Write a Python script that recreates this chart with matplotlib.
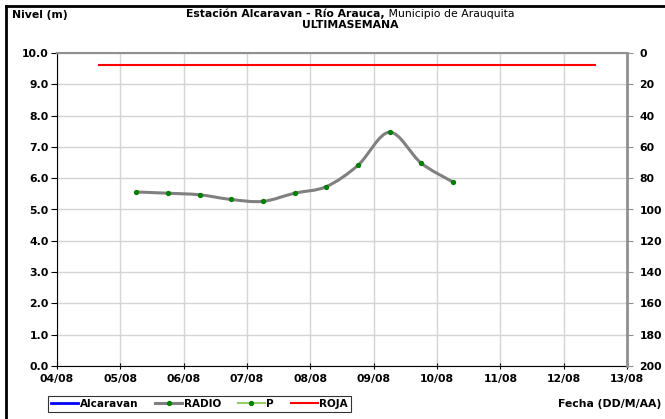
"""Nivel del río Arauca en la estación Alcaravan, última semana."""
import matplotlib
matplotlib.use("Agg")
import matplotlib.pyplot as plt
from matplotlib.path import Path
from matplotlib.patches import PathPatch
from matplotlib.lines import Line2D

plt.rcParams["font.family"] = ["DejaVu Sans"]

# ── Datos ──────────────────────────────────────────────────────────────────────
day_labels = ["04/08", "05/08", "06/08", "07/08", "08/08",
              "09/08", "10/08", "11/08", "12/08", "13/08"]
# días desde 04/08 00:00 (lecturas cada 12 h)
radio_days = [1.25, 1.75, 2.25, 2.75, 3.25, 3.75, 4.25, 4.75, 5.25, 5.75, 6.25]
radio_level = [5.56, 5.52, 5.47, 5.32, 5.26, 5.52, 5.73, 6.41, 7.47, 6.48, 5.88]
roja_days = [0.66, 8.5]
roja_level = [9.62, 9.62]
right_ticks = [0, 20, 40, 60, 80, 100, 120, 140, 160, 180, 200]

FS = 7.8

fig = plt.figure(figsize=(6.65, 4.19), dpi=100)
ax = fig.add_axes([0.0857, 0.1265, 0.8573, 0.747])

ax.set_xlim(0, len(day_labels) - 1)
ax.set_ylim(0, 10)
ax.set_xticks(range(len(day_labels)))
ax.set_xticklabels(day_labels)
ax.set_yticks(range(0, 11))
ax.set_yticklabels([f"{v:.1f}" for v in range(0, 11)])
ax.grid(True, color="#d4d4d4", lw=1)
ax.set_axisbelow(True)

for lab in ax.get_xticklabels() + ax.get_yticklabels():
    lab.set_fontweight("bold")
    lab.set_fontsize(FS)
ax.tick_params(axis="y", direction="out", length=4, width=0.8, pad=2)
ax.tick_params(axis="x", direction="inout", length=5, width=0.8, pad=3)

ax.spines["left"].set_color("black")
ax.spines["bottom"].set_color("black")
ax.spines["top"].set_color("#909090")
ax.spines["top"].set_linewidth(1.5)
ax.spines["right"].set_visible(False)

# ROJA
ax.plot(roja_days, roja_level, color="#ff0000", lw=1.5, zorder=3)

# RADIO — línea suavizada (Catmull-Rom -> Bezier) en coordenadas de datos
verts = [(radio_days[0], radio_level[0])]
codes = [Path.MOVETO]
n = len(radio_days)
for i in range(n - 1):
    p0 = (radio_days[max(i - 1, 0)], radio_level[max(i - 1, 0)])
    p1 = (radio_days[i], radio_level[i])
    p2 = (radio_days[i + 1], radio_level[i + 1])
    p3 = (radio_days[min(i + 2, n - 1)], radio_level[min(i + 2, n - 1)])
    c1 = (p1[0] + (p2[0] - p0[0]) / 6, p1[1] + (p2[1] - p0[1]) / 6)
    c2 = (p2[0] - (p3[0] - p1[0]) / 6, p2[1] - (p3[1] - p1[1]) / 6)
    verts += [c1, c2, p2]
    codes += [Path.CURVE4] * 3
ax.add_patch(PathPatch(Path(verts, codes), facecolor="none",
                       edgecolor="#808080", lw=2.2, zorder=4))
ax.plot(radio_days, radio_level, ls="none", marker="o", ms=2.8,
        color="#008000", zorder=5)

# eje derecho (invertido)
ax2 = ax.twinx()
ax2.set_ylim(200, 0)
ax2.set_yticks(right_ticks)
ax2.set_yticklabels([str(v) for v in right_ticks], fontweight="bold", fontsize=FS)
ax2.tick_params(axis="y", direction="out", length=4, width=0.8,
                color="#909090", pad=5)
for s in ["left", "top", "bottom"]:
    ax2.spines[s].set_visible(False)
ax2.spines["right"].set_color("#909090")
ax2.spines["right"].set_linewidth(2)

# ── Textos ─────────────────────────────────────────────────────────────────────
fig.text(0.018, 0.964, "Nivel (m)", fontsize=FS, fontweight="bold",
         ha="left", va="center")

# título en dos partes (negrita + normal), centrado como bloque
cx, ty = 0.527, 0.966
t_b = fig.text(0, ty, "Estación Alcaravan - Río Arauca,", fontsize=FS,
               fontweight="bold", ha="left", va="center")
t_n = fig.text(0, ty, " Municipio de Arauquita", fontsize=FS,
               ha="left", va="center")
r = fig.canvas.get_renderer()
wb = t_b.get_window_extent(r).width / fig.bbox.width
wn = t_n.get_window_extent(r).width / fig.bbox.width
x0 = cx - (wb + wn) / 2
t_b.set_x(x0)
t_n.set_x(x0 + wb)
fig.text(cx, 0.940, "ULTIMASEMANA", fontsize=FS, fontweight="bold",
         ha="center", va="center")
fig.text(0.995, 0.036, "Fecha (DD/M/AA)", fontsize=FS, fontweight="bold",
         ha="right", va="center")

handles = [
    Line2D([], [], color="#0000ff", lw=2),
    Line2D([], [], color="#808080", lw=2.2, marker="o", ms=2.8,
           mfc="#008000", mec="#008000"),
    Line2D([], [], color="#99cc66", lw=1.5, marker="o", ms=2.8,
           mfc="#008000", mec="#008000"),
    Line2D([], [], color="#ff0000", lw=1.5),
]
leg = fig.legend(handles, ["Alcaravan", "RADIO", "P", "ROJA"], ncol=4,
                 loc="center", bbox_to_anchor=(0.30, 0.036),
                 prop={"weight": "bold", "size": 7.5}, frameon=True,
                 fancybox=False, edgecolor="black", handlelength=2.6,
                 handletextpad=0.15, columnspacing=1.6, borderpad=0.3,
                 borderaxespad=0)
leg.get_frame().set_linewidth(0.8)

# marco negro izquierdo y superior
fig.add_artist(Line2D([0.009, 0.009], [0, 0.986], color="black", lw=2,
                      transform=fig.transFigure))
fig.add_artist(Line2D([0.009, 1.0], [0.986, 0.986], color="black", lw=2,
                      transform=fig.transFigure))

fig.savefig("out.png", dpi=100)
